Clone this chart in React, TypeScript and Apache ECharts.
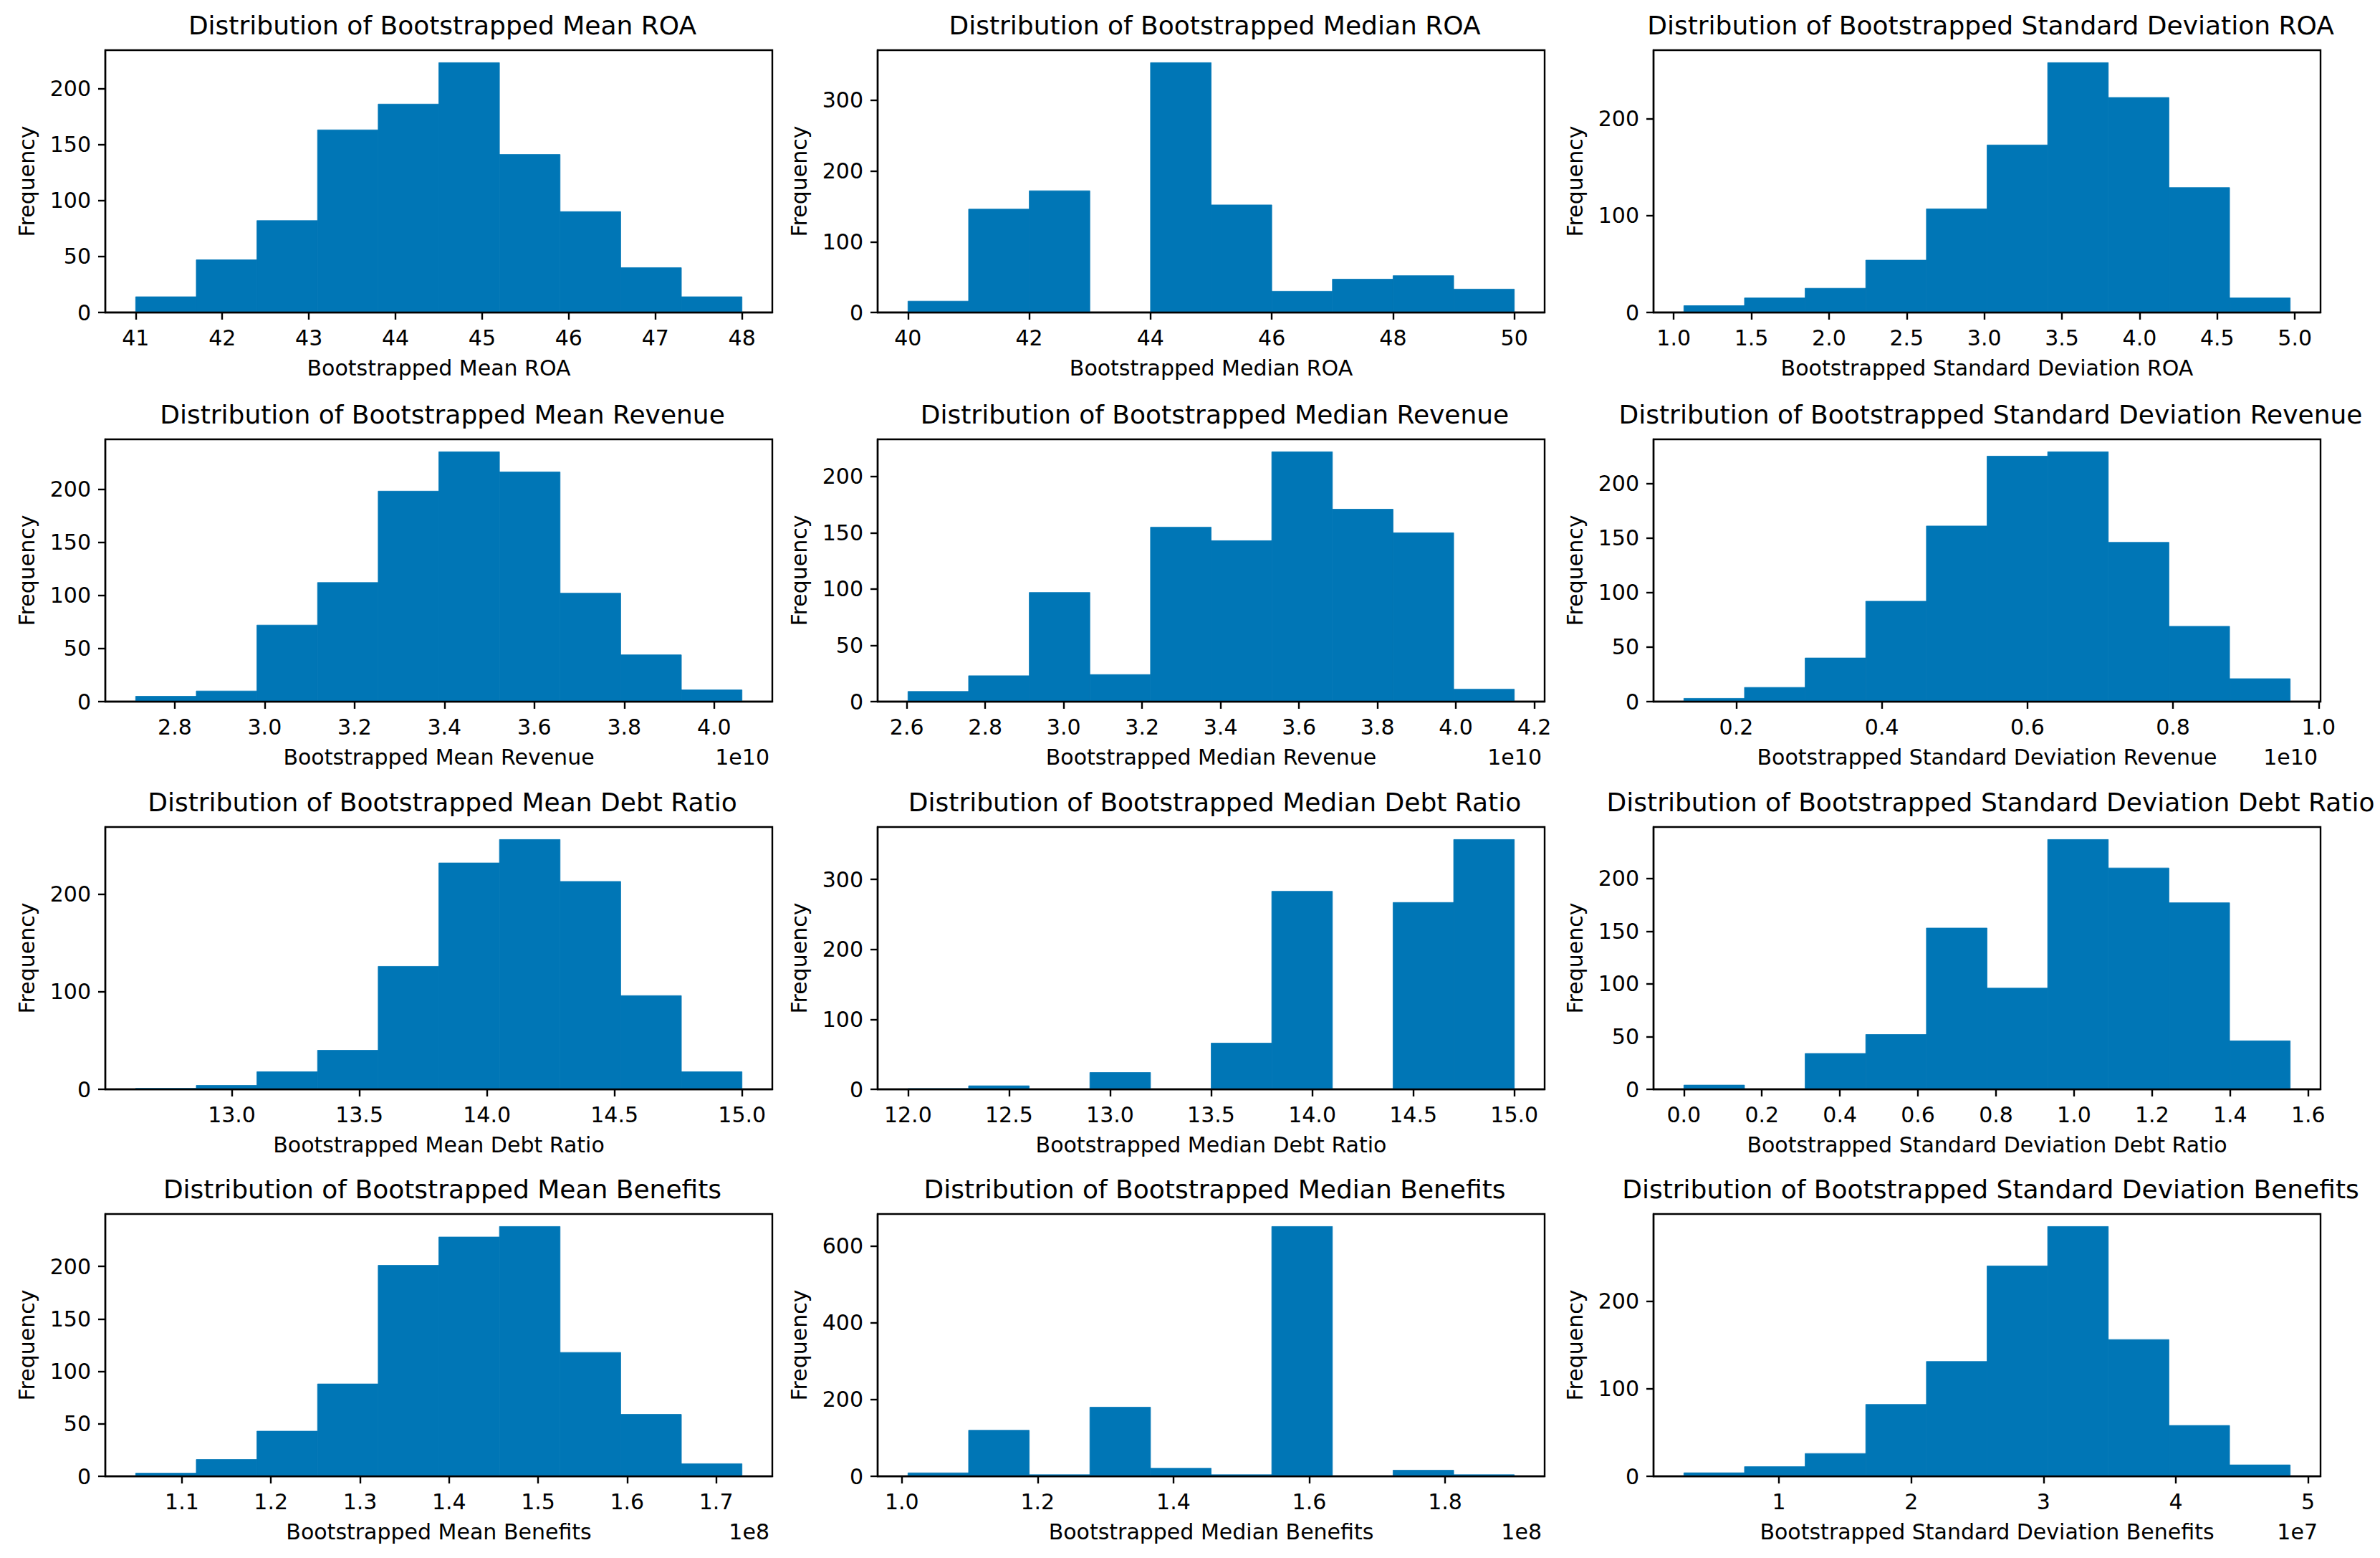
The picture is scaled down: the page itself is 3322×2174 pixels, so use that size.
import React, { useEffect, useRef } from "react";
import * as echarts from "echarts";

// ---------- data ----------
const titles = [
  "Distribution of Bootstrapped Mean ROA",
  "Distribution of Bootstrapped Median ROA",
  "Distribution of Bootstrapped Standard Deviation ROA",
  "Distribution of Bootstrapped Mean Revenue",
  "Distribution of Bootstrapped Median Revenue",
  "Distribution of Bootstrapped Standard Deviation Revenue",
  "Distribution of Bootstrapped Mean Debt Ratio",
  "Distribution of Bootstrapped Median Debt Ratio",
  "Distribution of Bootstrapped Standard Deviation Debt Ratio",
  "Distribution of Bootstrapped Mean Benefits",
  "Distribution of Bootstrapped Median Benefits",
  "Distribution of Bootstrapped Standard Deviation Benefits",
];
const xLabels = [
  "Bootstrapped Mean ROA",
  "Bootstrapped Median ROA",
  "Bootstrapped Standard Deviation ROA",
  "Bootstrapped Mean Revenue",
  "Bootstrapped Median Revenue",
  "Bootstrapped Standard Deviation Revenue",
  "Bootstrapped Mean Debt Ratio",
  "Bootstrapped Median Debt Ratio",
  "Bootstrapped Standard Deviation Debt Ratio",
  "Bootstrapped Mean Benefits",
  "Bootstrapped Median Benefits",
  "Bootstrapped Standard Deviation Benefits",
];
const yLabel = "Frequency";
const offsetLabels = ["", "", "", "1e10", "1e10", "1e10", "", "", "", "1e8", "1e8", "1e7"];

// histogram ranges [min, max] (10 equal bins), counts per bin
const meanRoaRange = [41.0, 48.0];
const meanRoaCounts = [14, 47, 82, 163, 186, 223, 141, 90, 40, 14];
const medianRoaRange = [40.0, 50.0];
const medianRoaCounts = [16, 146, 172, 0, 353, 152, 30, 47, 52, 33];
const sdRoaRange = [1.065, 4.97];
const sdRoaCounts = [7, 15, 25, 54, 107, 173, 258, 222, 129, 15];
const meanRevRange = [2.713, 4.062];
const meanRevCounts = [5, 10, 72, 112, 198, 235, 216, 102, 44, 11];
const medianRevRange = [2.603, 4.149];
const medianRevCounts = [9, 23, 97, 24, 155, 143, 222, 171, 150, 11];
const sdRevRange = [0.128, 0.961];
const sdRevCounts = [3, 13, 40, 92, 161, 225, 229, 146, 69, 21];
const meanDebtRange = [12.623, 15.0];
const meanDebtCounts = [1, 4, 18, 40, 126, 232, 256, 213, 96, 18];
const medianDebtRange = [12.0, 15.0];
const medianDebtCounts = [1, 5, 0, 24, 0, 66, 283, 0, 267, 357];
const sdDebtRange = [0.0, 1.554];
const sdDebtCounts = [4, 0, 34, 52, 153, 96, 237, 210, 177, 46];
const meanBenRange = [1.048, 1.729];
const meanBenCounts = [3, 16, 43, 88, 201, 228, 238, 118, 59, 12];
const medianBenRange = [1.009, 1.902];
const medianBenCounts = [9, 120, 4, 180, 21, 4, 651, 0, 16, 4];
const sdBenRange = [0.281, 4.865];
const sdBenCounts = [4, 11, 26, 82, 131, 240, 285, 156, 58, 13];

// tick labels
const meanRoaXTicks = [41, 42, 43, 44, 45, 46, 47, 48];
const medianRoaXTicks = [40, 42, 44, 46, 48, 50];
const sdRoaXTicks = [1.0, 1.5, 2.0, 2.5, 3.0, 3.5, 4.0, 4.5, 5.0];
const meanRevXTicks = [2.8, 3.0, 3.2, 3.4, 3.6, 3.8, 4.0];
const medianRevXTicks = [2.6, 2.8, 3.0, 3.2, 3.4, 3.6, 3.8, 4.0, 4.2];
const sdRevXTicks = [0.2, 0.4, 0.6, 0.8, 1.0];
const meanDebtXTicks = [13.0, 13.5, 14.0, 14.5, 15.0];
const medianDebtXTicks = [12.0, 12.5, 13.0, 13.5, 14.0, 14.5, 15.0];
const sdDebtXTicks = [0.0, 0.2, 0.4, 0.6, 0.8, 1.0, 1.2, 1.4, 1.6];
const meanBenXTicks = [1.1, 1.2, 1.3, 1.4, 1.5, 1.6, 1.7];
const medianBenXTicks = [1.0, 1.2, 1.4, 1.6, 1.8];
const sdBenXTicks = [1, 2, 3, 4, 5];
const xTickDecimals = [0, 0, 1, 1, 1, 1, 1, 1, 1, 1, 1, 0];

const yTicks50 = [0, 50, 100, 150, 200];
const yTicks100 = [0, 100, 200];
const yTicks100to300 = [0, 100, 200, 300];
const yTicks200to600 = [0, 200, 400, 600];

const ranges = [meanRoaRange, medianRoaRange, sdRoaRange, meanRevRange, medianRevRange, sdRevRange,
  meanDebtRange, medianDebtRange, sdDebtRange, meanBenRange, medianBenRange, sdBenRange];
const counts = [meanRoaCounts, medianRoaCounts, sdRoaCounts, meanRevCounts, medianRevCounts, sdRevCounts,
  meanDebtCounts, medianDebtCounts, sdDebtCounts, meanBenCounts, medianBenCounts, sdBenCounts];
const xTicks = [meanRoaXTicks, medianRoaXTicks, sdRoaXTicks, meanRevXTicks, medianRevXTicks, sdRevXTicks,
  meanDebtXTicks, medianDebtXTicks, sdDebtXTicks, meanBenXTicks, medianBenXTicks, sdBenXTicks];
const yTicks = [yTicks50, yTicks100to300, yTicks100, yTicks50, yTicks50, yTicks50,
  yTicks100, yTicks100to300, yTicks50, yTicks50, yTicks200to600, yTicks100];

// ---------- layout ----------
const W = 3322;
const H = 2174;
const COL_LEFT = [147, 1225, 2308];
const ROW_TOP = [70, 613, 1154, 1694];
const GRID_W = 931;
const GRID_H = 366;
const BAR = "#0076b6";
const FONT = "DejaVu Sans";
const TITLE_SIZE = 36;
const LABEL_SIZE = 30;

function buildOption() {
  const grid: any[] = [];
  const xAxis: any[] = [];
  const yAxis: any[] = [];
  const series: any[] = [];
  const title: any[] = [];
  const graphic: any[] = [];

  for (let i = 0; i < 12; i++) {
    const col = i % 3;
    const row = Math.floor(i / 3);
    const left = COL_LEFT[col];
    const top = ROW_TOP[row];
    const [lo, hi] = ranges[i];
    const span = hi - lo;
    const nb = counts[i].length;
    const bins = counts[i].map((c, k) => [lo + (k * span) / nb, lo + ((k + 1) * span) / nb, c]);
    const ymax = Math.max(...counts[i]) * 1.05;
    const dec = xTickDecimals[i];

    grid.push({
      left, top, width: GRID_W, height: GRID_H,
      show: true, borderColor: "#000", borderWidth: 2.4, backgroundColor: "transparent",
    });
    xAxis.push({
      type: "value", gridIndex: i,
      min: lo - 0.05 * span, max: hi + 0.05 * span,
      name: xLabels[i], nameLocation: "middle", nameGap: 62,
      nameTextStyle: { fontSize: LABEL_SIZE, fontFamily: FONT, color: "#000" },
      axisLine: { show: true, onZero: false, lineStyle: { color: "#000", width: 2.4 } },
      axisTick: { show: true, customValues: xTicks[i], length: 10, lineStyle: { color: "#000", width: 2.4 } },
      axisLabel: {
        show: true, customValues: xTicks[i], margin: 20,
        formatter: (v: number) => Number(v).toFixed(dec),
        fontSize: LABEL_SIZE, fontFamily: FONT, color: "#000",
      },
      splitLine: { show: false },
      z: 5,
    });
    yAxis.push({
      type: "value", gridIndex: i, min: 0, max: ymax,
      name: yLabel, nameLocation: "middle", nameGap: 95, nameRotate: 90,
      nameTextStyle: { fontSize: LABEL_SIZE, fontFamily: FONT, color: "#000" },
      axisLine: { show: true, onZero: false, lineStyle: { color: "#000", width: 2.4 } },
      axisTick: { show: true, customValues: yTicks[i], length: 10, lineStyle: { color: "#000", width: 2.4 } },
      axisLabel: {
        show: true, customValues: yTicks[i], margin: 20,
        formatter: (v: number) => String(Math.round(v)),
        fontSize: LABEL_SIZE, fontFamily: FONT, color: "#000",
      },
      splitLine: { show: false },
      z: 5,
    });
    series.push({
      type: "custom", xAxisIndex: i, yAxisIndex: i,
      data: bins,
      encode: { x: [0, 1], y: 2 },
      clip: true,
      z: 2,
      renderItem: (params: any, api: any) => {
        const x0 = api.value(0);
        const x1 = api.value(1);
        const h = api.value(2);
        if (!h) return null;
        const p0 = api.coord([x0, 0]);
        const p1 = api.coord([x1, h]);
        return {
          type: "rect",
          shape: { x: p0[0], y: p1[1], width: p1[0] - p0[0], height: p0[1] - p1[1] },
          style: { fill: BAR, stroke: BAR, lineWidth: 0.8 },
        };
      },
    });
    title.push({
      text: titles[i],
      left: left + GRID_W / 2,
      top: top - 58,
      textAlign: "center",
      textStyle: { fontSize: TITLE_SIZE, fontWeight: "normal", fontFamily: FONT, color: "#000" },
    });
    if (offsetLabels[i]) {
      graphic.push({
        type: "text",
        x: left + GRID_W - 4,
        y: top + GRID_H + 77,
        style: {
          text: offsetLabels[i], fontSize: LABEL_SIZE, fontFamily: FONT, fill: "#000",
          textAlign: "right", textVerticalAlign: "middle", align: "right", verticalAlign: "middle",
        },
      });
    }
  }

  return {
    animation: false,
    backgroundColor: "#fff",
    textStyle: { fontFamily: FONT },
    title, grid, xAxis, yAxis, series, graphic,
  };
}

export default function App() {
  const ref = useRef<HTMLDivElement | null>(null);
  useEffect(() => {
    if (!ref.current) return;
    const chart = echarts.init(ref.current, undefined, { renderer: "svg", width: W, height: H });
    chart.setOption(buildOption() as any);
    return () => chart.dispose();
  }, []);
  return (
    <div
      ref={ref}
      style={{ position: "absolute", left: 0, top: 0, width: W, height: H, background: "#fff" }}
    />
  );
}
